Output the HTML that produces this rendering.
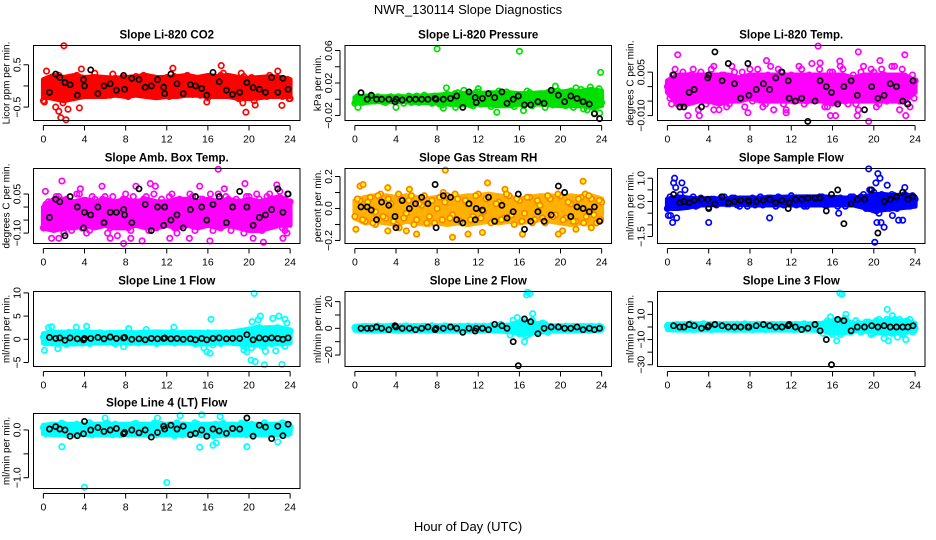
<!DOCTYPE html>
<html><head><meta charset="utf-8"><style>
html,body{margin:0;padding:0;background:#fff}
svg{display:block;font-family:"Liberation Sans",Arial,sans-serif}
</style></head><body>
<svg id="chart" width="936" height="540" viewBox="0 0 936 540" xmlns="http://www.w3.org/2000/svg">
<text x="468" y="14" font-size="13" text-anchor="middle">NWR_130114  Slope Diagnostics</text>
<text x="468" y="531" font-size="13" text-anchor="middle">Hour of Day (UTC)</text>
</svg>
<script>
const HOURS_A=[0,0.5,1,1.5,2,2.5,3,3.5,4,4.5,5,5.5,6,6.5,7,7.5,8,8.5,9,9.5,10,10.5,11,11.5,12,12.5,13,13.5,14,14.5,15,15.5,16,16.5,17,17.5,18,18.5,19,19.5,20,20.5,21,21.5,22,22.5,23,23.5,24];
const HOURS_B=[0.25,0.75,1.25,1.75,2.25,2.75,3.25,3.75,4.25,4.75,5.25,5.75,6.25,6.75,7.25,7.75,8.25,8.75,9.25,9.75,10.25,10.75,11.25,11.75,12.25,12.75,13.25,13.75,14.25,14.75,15.25,15.75,16.25,16.75,17.25,17.75,18.25,18.75,19.25,19.75,20.25,20.75,21.25,21.75,22.25,22.75,23.25,23.75,23.9];
const HOURS_BAND=[0,1,2,3,4,5,6,7,8,9,10,11,12,13,14,15,16,17,18,19,20,21,22,23,24];
const HOURS_BLACK=[0.6,1.2,1.6,2.1,2.6,3.3,3.9,4.0,4.6,5.3,5.9,6.5,7.1,7.8,7.9,8.6,9.3,9.9,10.5,11.1,11.7,11.8,12.4,13.0,13.6,14.3,14.8,15.4,15.9,16.5,17.1,17.8,18.4,19.1,19.8,20.4,21.0,21.6,22.2,22.8,23.3,23.8];
const X_TICKS=[0,4,8,12,16,20,24];

const co2A=[-0.35,0.1,-0.2,0.25,-0.1,0.15,-0.25,0.2,0,-0.15,0.3,-0.05,0.12,-0.22,0.18,-0.1,0.05,-0.2,0.22,0.0,-0.12,0.15,-0.25,0.08,0.2,-0.15,0.1,-0.05,0.25,-0.2,0.05,0.18,-0.28,0.12,-0.08,0.3,-0.18,0.1,-0.3,0.22,-0.1,-0.35,0.15,-0.05,0.25,-0.2,0.1,-0.15,-0.3];
const co2B=[0.05,-0.15,0.2,-0.28,0.15,-0.05,0.25,-0.18,0.12,0.2,-0.22,0.15,-0.1,0.28,-0.05,0.2,-0.25,0.1,-0.12,0.25,0.15,-0.2,0.1,-0.08,-0.25,0.22,-0.12,0.2,-0.1,0.15,-0.22,-0.1,0.2,-0.2,0.25,-0.1,0.15,-0.25,0.3,-0.1,0.2,-0.2,0.05,-0.25,-0.1,0.2,-0.25,0.15,0.1];
const co2Out=[[2.0,0.95],[1.2,-0.5],[1.5,-0.6],[1.7,-0.75],[2.2,-0.8],[2.4,-0.55],[1.9,-0.4],[3.5,-0.52],[0.3,0.35],[3.7,0.4],[12.6,0.42],[17.3,0.48],[19.7,-0.62],[19.4,-0.4],[20.6,-0.45],[23.2,-0.46],[23.9,-0.3],[15.9,-0.38],[22.8,0.35],[0.1,-0.38]];
const co2Black=[-0.15,0.28,0.2,0.08,0.03,-0.22,0.15,0.0,0.38,-0.18,0.0,0.05,-0.1,0.25,-0.08,0.18,0.15,-0.03,0.0,0.15,-0.03,-0.18,0.28,0.05,-0.18,0.03,0.0,-0.06,-0.22,0.32,0.1,-0.1,-0.2,-0.15,0.08,-0.04,-0.08,-0.15,0.2,-0.15,0.18,-0.08];
const co2Hi=[0.15,0.25,0.2,0.25,0.2,0.22,0.2,0.18,0.2,0.22,0.25,0.2,0.2,0.22,0.25,0.2,0.25,0.22,0.25,0.2,0.18,0.2,0.22,0.2,0.15];
const co2Lo=[-0.25,-0.3,-0.35,-0.3,-0.25,-0.25,-0.25,-0.22,-0.25,-0.22,-0.25,-0.28,-0.25,-0.25,-0.22,-0.22,-0.25,-0.25,-0.25,-0.3,-0.3,-0.28,-0.25,-0.25,-0.25];

const presA=[-0.005,0.002,-0.003,0.003,-0.002,0.001,-0.004,0.003,-0.003,0.002,0.001,-0.004,0.004,-0.002,0.003,-0.005,0.002,-0.007,0.006,-0.004,0.008,-0.006,0.005,-0.008,0.009,-0.003,0.006,-0.007,0.01,-0.004,0.007,-0.009,0.004,-0.006,0.008,-0.005,0.006,-0.01,0.009,-0.004,0.007,-0.008,0.01,-0.006,0.012,-0.005,0.011,-0.009,-0.004];
const presB=[0.003,-0.004,0.002,-0.002,0.003,-0.003,0.002,-0.001,0.003,-0.005,0.004,0.002,-0.004,0.005,-0.003,0.004,-0.006,0.005,-0.003,0.007,-0.005,0.004,-0.007,0.008,-0.006,0.005,-0.009,0.007,-0.005,0.009,-0.007,0.005,-0.006,0.01,-0.008,0.006,-0.005,0.008,-0.007,0.01,-0.006,0.009,-0.01,0.008,-0.012,0.006,-0.01,0.013,0.004];
const presOut=[[8.0,0.062],[16.0,0.059],[23.9,0.033],[8.9,0.014],[23.3,-0.017],[23.8,-0.017],[0.3,-0.01],[4.0,-0.01],[9.8,-0.01],[13.8,-0.016],[19.5,0.016],[10.6,0.011],[12.0,0.013],[22.9,0.015],[8.6,-0.011],[16.4,-0.014],[21.5,0.014],[22.6,-0.013]];
const presBlack=[0.008,0.0,0.005,0.0,0.0,0.0,-0.003,0.0,-0.001,0.0,0.0,0.0,0.0,0.001,0.0,0.0,0.001,0.004,-0.01,0.009,0.002,-0.004,0.001,0.007,0.002,0.009,-0.005,0.0,0.004,-0.007,-0.007,-0.003,-0.005,0.011,0.005,-0.003,0.004,0.001,-0.003,-0.006,-0.018,-0.024];
const presHi=[0.002,0.004,0.003,0.003,0.003,0.003,0.004,0.004,0.005,0.006,0.006,0.008,0.007,0.008,0.008,0.008,0.007,0.007,0.008,0.008,0.009,0.01,0.01,0.012,0.01];
const presLo=[-0.004,-0.004,-0.003,-0.003,-0.003,-0.003,-0.004,-0.004,-0.005,-0.006,-0.007,-0.007,-0.006,-0.007,-0.008,-0.008,-0.006,-0.006,-0.006,-0.007,-0.008,-0.008,-0.008,-0.01,-0.008];

const tempA=[0.0,0.004,-0.006,0.005,-0.003,0.006,-0.008,0.003,-0.005,0.007,-0.002,0.004,-0.006,0.005,0.0,-0.007,0.006,-0.004,0.003,-0.006,0.007,-0.003,0.005,-0.008,0.004,-0.002,0.006,-0.005,0.008,-0.004,0.003,-0.007,0.005,-0.002,0.006,-0.006,0.004,-0.008,0.007,-0.003,0.005,-0.006,0.004,-0.004,0.007,-0.005,0.003,-0.007,0.002];
const tempB=[-0.004,0.006,-0.002,-0.006,0.004,-0.004,0.005,-0.006,0.006,-0.003,0.004,-0.007,0.007,-0.004,0.005,0.003,-0.005,0.006,-0.007,0.004,-0.004,0.006,-0.006,0.003,-0.005,0.007,-0.006,0.004,-0.004,0.006,-0.007,0.005,-0.004,0.007,-0.005,0.003,-0.006,0.005,-0.004,0.006,-0.007,0.006,-0.005,0.007,-0.003,0.006,-0.006,0.004,-0.004];
const tempOut=[[0.4,-0.006],[1.0,0.011],[1.2,-0.007],[2.0,-0.01],[3.1,-0.01],[4.5,-0.008],[5.0,-0.008],[7.8,-0.009],[10.3,-0.008],[11.5,-0.009],[14.6,0.014],[14.8,0.0082],[15.8,-0.01],[16.3,-0.01],[18.5,0.012],[18.4,-0.01],[19.5,-0.012],[22.5,-0.008],[23.0,0.011],[23.1,-0.01],[9.6,0.009],[16.7,0.0088],[20.6,0.009]];
const tempBlack=[0.004,-0.007,-0.007,-0.002,-0.001,-0.007,0.003,0.004,0.012,0.002,0.008,0.001,-0.004,0.008,-0.003,-0.001,0.001,-0.001,0.003,0.005,0.002,-0.004,-0.005,-0.004,-0.012,-0.005,0.002,0.0,-0.002,-0.006,0.0,0.002,-0.003,-0.008,0.0,-0.004,-0.003,0.001,0.0,-0.005,-0.006,0.002];
const tempHi=[0.002,0.004,0.004,0.004,0.004,0.004,0.004,0.003,0.004,0.004,0.004,0.004,0.004,0.004,0.004,0.004,0.004,0.004,0.003,0.004,0.004,0.004,0.004,0.004,0.002];
const tempLo=[-0.002,-0.006,-0.006,-0.005,-0.005,-0.006,-0.005,-0.005,-0.004,-0.005,-0.005,-0.005,-0.005,-0.005,-0.005,-0.005,-0.006,-0.005,-0.005,-0.005,-0.005,-0.005,-0.005,-0.005,-0.002];

const ambA=[-0.08,0.02,-0.05,0.04,-0.1,0.0,-0.06,0.05,-0.03,-0.09,0.03,-0.06,0.04,-0.08,0.0,-0.04,0.05,-0.09,0.02,-0.06,0.04,-0.03,-0.08,0.03,-0.05,0.05,-0.1,0.01,-0.04,0.04,-0.07,0.03,-0.02,-0.09,0.05,-0.05,0.03,-0.07,0.02,-0.1,0.04,-0.06,0.03,-0.08,0.05,-0.04,0.06,-0.09,0.02];
const ambB=[0.01,-0.07,0.04,-0.06,0.03,-0.09,0.05,-0.08,0.02,0.04,-0.07,0.03,-0.1,0.04,-0.07,0.03,-0.08,0.04,-0.05,0.03,-0.09,0.05,0.01,-0.07,0.04,-0.08,0.03,-0.06,0.05,-0.09,0.03,-0.06,0.05,0.02,-0.08,0.04,-0.09,0.03,-0.06,0.04,-0.05,0.05,-0.09,0.04,-0.07,0.03,-0.08,0.05,-0.03];
const ambOut=[[0.2,0.06],[0.8,-0.12],[1.5,-0.12],[1.8,0.1],[3.6,0.07],[4.2,-0.1],[5.7,0.08],[6.5,-0.12],[7.2,-0.11],[7.8,-0.14],[8.5,-0.12],[9.0,0.08],[9.6,-0.13],[10.4,0.09],[10.9,0.08],[12.3,-0.12],[14.2,-0.12],[15.2,0.08],[17.0,0.145],[17.6,0.07],[16.2,-0.13],[20.4,-0.12],[21.4,-0.135],[22.7,0.085],[23.3,-0.12],[23.7,-0.1],[19.6,0.09]];
const ambBlack=[-0.04,0.03,0.02,-0.11,0.04,0.0,-0.08,-0.02,-0.03,0.0,-0.06,-0.02,-0.02,-0.01,-0.03,-0.06,0.07,0.01,-0.09,0.0,-0.07,0.0,-0.05,-0.03,-0.08,-0.01,0.04,0.0,-0.05,0.01,0.04,-0.06,0.0,0.06,0.0,-0.07,-0.04,-0.03,-0.01,0.07,-0.02,0.05];
const ambHi=[0.0,0.03,0.03,0.02,0.03,0.02,0.03,0.02,0.03,0.02,0.03,0.02,0.02,0.03,0.03,0.02,0.03,0.02,0.03,0.02,0.03,0.02,0.03,0.04,0.02];
const ambLo=[-0.08,-0.09,-0.08,-0.08,-0.07,-0.08,-0.07,-0.08,-0.08,-0.07,-0.08,-0.08,-0.07,-0.08,-0.07,-0.08,-0.07,-0.08,-0.07,-0.08,-0.09,-0.09,-0.08,-0.07,-0.07];

const rhA=[-0.05,0.05,-0.08,0.07,-0.02,0.09,-0.06,0.03,-0.1,0.06,-0.03,0.08,-0.07,0.02,-0.09,0.05,0.0,-0.07,0.08,-0.04,0.06,-0.09,0.03,-0.05,0.09,-0.02,0.07,-0.08,0.04,-0.06,0.08,-0.1,0.05,-0.03,0.07,-0.07,0.02,-0.09,0.06,-0.04,0.08,-0.06,0.03,-0.08,0.07,-0.05,0.06,-0.09,0.04];
const rhB=[0.06,-0.07,0.04,-0.09,0.08,-0.05,0.06,-0.08,0.09,-0.06,0.05,-0.1,0.03,0.08,-0.05,-0.09,0.07,0.04,-0.06,0.09,-0.08,0.05,-0.07,0.08,-0.06,0.06,-0.09,0.03,-0.07,0.09,-0.04,0.06,-0.08,0.07,-0.09,0.05,-0.06,0.08,-0.05,0.09,-0.07,0.04,-0.08,0.06,-0.09,0.08,-0.04,0.05,-0.07];
const rhOut=[[0.1,-0.13],[0.5,0.14],[0.8,0.15],[3.2,0.13],[3.2,-0.14],[4.3,-0.12],[5.0,-0.14],[5.3,0.12],[6.0,-0.16],[8.8,0.24],[8.6,0.1],[9.5,-0.18],[12.9,0.16],[11.0,-0.16],[12.4,-0.15],[14.6,0.12],[16.3,-0.16],[19.8,-0.16],[20.2,-0.14],[22.2,0.17],[22.4,0.09],[23.0,-0.12],[21.5,-0.13],[2.0,-0.1]];
const rhBlack=[0.01,0.01,-0.01,-0.07,0.04,0.02,-0.05,-0.12,0.05,0.0,0.03,0.07,0.03,0.15,-0.12,0.08,0.07,-0.07,-0.09,0.03,-0.07,0.0,-0.01,0.07,-0.08,0.02,-0.06,-0.02,0.09,-0.13,-0.08,-0.02,-0.08,-0.04,0.14,0.1,-0.05,0.01,0.0,-0.02,0.01,-0.08];
const rhHi=[0.05,0.07,0.08,0.08,0.07,0.08,0.07,0.06,0.07,0.08,0.07,0.08,0.08,0.09,0.08,0.07,0.06,0.07,0.08,0.08,0.07,0.08,0.07,0.08,0.06];
const rhLo=[-0.06,-0.09,-0.08,-0.09,-0.1,-0.08,-0.09,-0.1,-0.09,-0.1,-0.09,-0.1,-0.09,-0.08,-0.09,-0.08,-0.09,-0.08,-0.07,-0.08,-0.09,-0.1,-0.09,-0.1,-0.08];

const sfA=[-0.3,0.1,-0.2,0.15,-0.1,0.2,-0.15,0.05,-0.25,0.1,-0.05,0.2,-0.1,0.15,-0.2,0.05,0.1,-0.15,0.2,-0.05,0.15,-0.2,0.1,-0.1,0.25,-0.15,0.05,-0.2,0.15,-0.05,0.2,-0.15,0.1,-0.2,0.05,-0.1,0.2,-0.15,0.3,-0.3,0.4,-0.5,0.2,-0.3,0.25,-0.15,0.3,-0.2,0.1];
const sfB=[0.2,-0.2,0.3,-0.1,0.1,-0.2,0.15,-0.1,0.1,-0.15,0.2,-0.1,0.15,-0.15,0.1,-0.2,0.15,-0.05,-0.15,0.15,-0.1,0.2,-0.15,0.15,-0.1,0.1,-0.2,0.15,-0.1,0.2,-0.15,0.1,-0.05,0.15,-0.2,0.2,-0.1,0.2,-0.3,0.5,-0.4,0.3,-0.2,0.3,-0.3,0.2,-0.2,0.25,-0.1];
const sfOut=[[0.1,-0.6],[0.3,-0.6],[0.5,-0.9],[0.6,0.8],[0.7,1.0],[0.8,0.6],[0.9,-0.7],[1.4,0.8],[1.7,0.5],[4.0,-0.9],[9.9,-0.7],[19.5,1.4],[19.6,0.5],[19.8,-0.3],[20.2,0.8],[20.4,1.2],[20.6,1.0],[20.1,-1.75],[20.3,-0.9],[20.7,-0.9],[21.0,-1.1],[21.3,0.7],[21.8,-0.6],[22.4,-0.8],[22.8,-0.8],[23.0,0.6],[16.6,-0.5]];
const sfBlack=[0.3,-0.05,0.0,-0.05,0.05,0.1,0.1,-0.3,-0.1,0.2,-0.05,0.0,0.05,0.05,0.0,0.0,0.05,0.1,-0.05,0.05,-0.3,-0.05,0.1,0.1,0.15,0.15,0.15,-0.4,0.3,0.5,-0.95,-0.1,0.1,0.1,0.5,-1.35,0.0,0.1,0.2,0.4,0.1,0.2];
const sfHi=[0.1,0.2,0.15,0.12,0.12,0.12,0.12,0.15,0.15,0.15,0.18,0.18,0.2,0.2,0.2,0.2,0.18,0.15,0.15,0.2,0.3,0.3,0.25,0.3,0.2];
const sfLo=[-0.3,-0.3,-0.25,-0.15,-0.15,-0.12,-0.12,-0.12,-0.15,-0.15,-0.15,-0.15,-0.15,-0.15,-0.15,-0.15,-0.15,-0.15,-0.15,-0.25,-0.4,-0.35,-0.3,-0.25,-0.2];

const l1A=[0.5,-0.5,1.2,-0.8,0.8,1.5,-0.6,0.3,1.0,-0.9,0.6,1.4,-0.4,0.9,-1.0,0.5,1.2,-0.7,0.4,1.3,-0.5,0.8,-0.9,1.1,0.2,1.5,-0.6,0.9,-0.4,1.2,-0.8,0.6,1.4,-1.2,0.8,-0.5,1.1,-0.7,1.6,-1.5,2.0,-1.0,2.5,-1.2,2.2,-0.8,2.0,-1.5,1.8];
const l1B=[-0.8,1.0,-0.3,0.9,-1.1,0.4,1.1,-0.8,0.5,1.2,-0.6,0.3,1.1,-0.7,0.6,1.2,-0.5,0.9,-0.8,0.6,1.1,-0.6,1.3,-0.4,0.9,-0.8,1.2,-0.5,0.8,-1.0,1.3,-0.7,0.5,1.1,-0.9,1.4,-0.6,1.0,-1.0,1.5,-1.8,2.4,-1.5,1.8,-1.0,2.5,-0.9,1.6,0.5];
const l1Out=[[0.1,-2.4],[0.5,2.5],[0.8,2.7],[1.4,-2.0],[3.2,2.6],[4.2,2.8],[7.8,-1.6],[8.3,2.3],[10.0,2.1],[12.7,2.6],[15.6,-1.8],[15.9,-2.7],[16.3,4.3],[16.2,-3.0],[19.5,-2.3],[19.8,-2.7],[20.2,-4.5],[20.5,9.9],[20.3,3.8],[20.6,-4.8],[20.9,4.2],[21.1,5.0],[21.5,-5.5],[21.6,-2.6],[22.3,4.5],[22.6,-2.5],[22.9,5.0],[23.2,-5.4],[23.5,4.3],[23.7,3.5],[22.0,2.3]];
const l1Black=[0.4,0.2,0.3,-0.2,0.3,0.1,-0.1,0.2,0.2,0.4,0.1,0.5,0.2,0.3,0.4,0.0,0.1,-0.1,0.2,0.1,0.2,0.3,0.1,0.2,0.0,0.1,-0.1,0.2,-0.1,0.2,0.3,0.1,0.2,0.2,1.0,-0.1,0.3,0.1,0.3,0.2,0.0,0.3];
const l1Hi=[1.2,1.5,1.5,1.6,1.5,1.5,1.4,1.5,1.5,1.4,1.5,1.6,1.5,1.4,1.5,1.5,1.4,1.5,1.5,1.8,2.2,2.5,2.5,2.5,2.0];
const l1Lo=[-0.8,-1.0,-1.0,-1.0,-0.9,-0.8,-0.8,-0.8,-0.8,-0.8,-0.8,-0.8,-0.7,-0.8,-0.8,-1.0,-1.0,-0.8,-0.8,-1.0,-1.2,-1.2,-1.0,-1.0,-0.8];

const l2A=[0.5,-1,1.5,-0.5,1,-1.5,0.8,1.6,-1,0.5,1.8,-0.8,1.2,-1.2,0.6,1.9,-1,0.4,1.5,-1.4,0.9,-0.6,1.7,-1.1,0.5,1.6,-1.3,0.8,-0.4,1.5,-1.2,3,-3,5,-4,2,-2,3,1.5,-1,0.8,1.6,-1.2,0.5,1.2,-0.8,1.5,-1,0.3];
const l2B=[-0.5,1.2,-1,0.8,1.8,-0.8,-0.3,1,-1.5,1.5,0,1.4,-1.2,1.6,-0.6,1.2,-1.5,1.8,-0.8,0.7,1.5,-1,0.8,1.6,-1.4,0.6,1.9,-0.8,1.4,-1.5,2,-2.5,4,-5,6,-3,4,-3,-1,1.4,-1.2,0.4,1.5,-0.9,1.3,-1.4,0.6,1.6,-0.5];
const l2Out=[[15.8,8],[15.4,6],[15.1,-5],[16.0,-4],[16.7,25],[16.8,27],[17.0,26],[17.3,11],[16.5,-10],[16.6,-6],[17.8,-4],[18.0,3],[14.2,3]];
const l2Black=[0,0,0,1,0,-1,2,1,0,0,-1,0,1,-1,0,0,1,0,-3,0,-2,0,0,-1,3,2,0,-10,-28,7,5,-4,0,1,1,0,0,1,-1,0,-1,0];
const l2Hi=[1.5,2,2,2,2,2,2,2,2,2,2,2,2,2,2,2.5,4,5,3,2,2,2,2,2,1.5];
const l2Lo=[-1.5,-2,-2,-2,-2,-2,-2,-2,-2,-2,-2,-2,-2,-2,-2,-2.5,-4,-4,-3,-2,-2,-2,-2,-2,-1.5];

const l3A=[0.5,-1.5,2,-1,1.5,-2,1,2.5,-1.5,0.5,2,-1,1.5,-2,1,2.5,-1,0.5,2,-2,1,-1,2,-1.5,0.5,2,-2,1,-1,2,-1.5,3,-4,5,-3,2,-2,3,-3,4,-5,6,-4,5,-3,6,-4,3,-1];
const l3B=[-1,1.5,-0.5,1,2.5,-1,0,1.5,-2,2,0,1.8,-1.5,2.2,-0.8,1.5,-2,2.2,-1,1,2,-1.5,1.2,2,-2,0.8,2.5,-1,1.8,-2,2.5,-3,5,-6,7,-4,5,-4,4,-6,5,-4,6,-5,4,-6,5,-4,1];
const l3Out=[[15.8,8],[15.5,5],[15.1,-5],[16.0,-6],[16.7,27],[16.9,26],[17.3,10],[16.4,-11],[17.8,-3],[21.3,14],[21.8,9],[21.0,-9],[21.4,-11],[22.0,6],[22.3,-8],[22.8,-5],[23.1,-10],[23.5,6],[20.5,-3],[19.7,-5]];
const l3Black=[1,0,0,2,1,-1,0,1,2,1,0,0,0,0,0,1,2,1,0,0,1,2,0,-2,-1,2,-3,-10,-30,6,5,-3,0,0,1,0,1,0,0,0,0,1];
const l3Hi=[2,2.5,2.5,2.5,2.5,2.5,2.5,2.5,2.5,2.5,2.5,2.5,2.5,2.5,2.5,3,5,6,3,3,4,5,5,5,3];
const l3Lo=[-2,-2.5,-2.5,-2.5,-2.5,-2.5,-2.5,-2.5,-2.5,-2.5,-2.5,-2.5,-2.5,-2.5,-2.5,-3,-5,-5,-3,-3,-4,-5,-5,-4,-3];

const l4A=[0.05,-0.05,0.1,-0.08,0.12,0.0,-0.1,0.08,-0.05,0.15,-0.02,0.1,-0.08,0.05,0.12,-0.1,0.06,-0.04,0.14,-0.08,0.1,0.0,-0.1,0.12,-0.05,0.08,0.15,-0.1,0.05,-0.06,0.12,-0.02,0.1,-0.12,0.06,0.14,-0.05,0.1,-0.08,0.12,0.02,-0.1,0.08,0.15,-0.06,0.1,-0.04,0.12,0.05];
const l4B=[-0.08,0.1,-0.04,0.14,-0.1,0.06,0.12,-0.06,0.1,-0.1,0.08,-0.06,0.14,-0.1,0.0,0.1,-0.08,0.12,-0.05,0.06,-0.1,0.14,0.05,-0.06,0.1,-0.12,0.02,0.1,-0.08,0.15,-0.1,0.08,-0.06,0.12,-0.04,-0.1,0.1,-0.06,0.14,-0.1,0.12,0.05,-0.06,0.1,-0.1,0.06,0.15,-0.08,0.1];
const l4Out=[[4.0,-1.2],[12.0,-1.1],[1.8,-0.35],[15.2,-0.36],[19.8,-0.35],[13.3,0.3],[15.4,0.32],[17.2,0.28],[6.0,0.25],[16.5,-0.32],[16.8,-0.27],[22.8,-0.25],[11.1,0.25]];
const l4Black=[0.02,0.07,0.02,0.0,-0.13,-0.12,-0.08,0.18,0.0,0.05,-0.03,0.0,0.03,-0.08,-0.05,0.0,-0.06,0.0,-0.15,-0.05,0.08,0.02,0.1,0.02,0.08,-0.1,-0.07,0.0,-0.13,0.02,-0.02,-0.07,0.03,0.02,0.25,-0.13,0.1,0.06,-0.18,0.08,-0.12,0.12];
const l4Hi=[0.1,0.12,0.12,0.12,0.12,0.12,0.13,0.12,0.12,0.12,0.12,0.12,0.12,0.13,0.12,0.12,0.12,0.13,0.12,0.12,0.12,0.12,0.12,0.12,0.1];
const l4Lo=[-0.08,-0.1,-0.1,-0.1,-0.1,-0.1,-0.1,-0.1,-0.1,-0.1,-0.1,-0.1,-0.1,-0.1,-0.1,-0.1,-0.12,-0.12,-0.1,-0.1,-0.1,-0.1,-0.1,-0.1,-0.08];

const panels=[
 {name:'co2',title:'Slope Li-820 CO2',ylab:'Licor ppm per min.',col:0,row:0,ymin:-0.817,ymax:0.956,ticks:[-0.5,0,0.5],labels:[-0.5,0.5],fmt:1,a:co2A,b:co2B,o:co2Out,k:co2Black,hi:co2Hi,lo:co2Lo,stroke:'#ff0000',fill:'none',band:'#ff0000'},
 {name:'pressure',title:'Slope Li-820 Pressure',ylab:'kPa per min.',col:1,row:0,ymin:-0.0262,ymax:0.0662,ticks:[-0.02,0,0.02,0.04,0.06],labels:[-0.02,0.02,0.06],fmt:2,a:presA,b:presB,o:presOut,k:presBlack,hi:presHi,lo:presLo,stroke:'#00e000',fill:'none',band:'#00e000'},
 {name:'li820-temp',title:'Slope Li-820 Temp.',ylab:'degrees C per min.',col:2,row:0,ymin:-0.0117,ymax:0.0142,ticks:[-0.01,-0.005,0,0.005],labels:[-0.01,0.005],fmt:3,a:tempA,b:tempB,o:tempOut,k:tempBlack,hi:tempHi,lo:tempLo,stroke:'#ff00ff',fill:'none',band:'#ff00ff'},
 {name:'amb-box-temp',title:'Slope Amb. Box Temp.',ylab:'degrees C per min.',col:0,row:1,ymin:-0.14,ymax:0.148,ticks:[-0.1,-0.05,0,0.05],labels:[-0.1,0.05],fmt:2,a:ambA,b:ambB,o:ambOut,k:ambBlack,hi:ambHi,lo:ambLo,stroke:'#ff00ff',fill:'none',band:'#ff00ff'},
 {name:'gas-stream-rh',title:'Slope Gas Stream RH',ylab:'percent per min.',col:1,row:1,ymin:-0.219,ymax:0.25,ticks:[-0.2,-0.1,0,0.1,0.2],labels:[-0.2,0,0.2],fmt:1,a:rhA,b:rhB,o:rhOut,k:rhBlack,hi:rhHi,lo:rhLo,stroke:'#ff8000',fill:'#ffff00',band:'#ffb000'},
 {name:'sample-flow',title:'Slope Sample Flow',ylab:'ml/min per min.',col:2,row:1,ymin:-1.8,ymax:1.417,ticks:[-1.5,-1,-0.5,0,0.5,1],labels:[-1.5,0,1],fmt:1,a:sfA,b:sfB,o:sfOut,k:sfBlack,hi:sfHi,lo:sfLo,stroke:'#0000ff',fill:'none',band:'#0000ff'},
 {name:'line1-flow',title:'Slope Line 1 Flow',ylab:'ml/min per min.',col:0,row:2,ymin:-5.86,ymax:10.3,ticks:[-5,0,5,10],labels:[-5,0,5,10],fmt:0,a:l1A,b:l1B,o:l1Out,k:l1Black,hi:l1Hi,lo:l1Lo,stroke:'#00ffff',fill:'none',band:'#00ffff'},
 {name:'line2-flow',title:'Slope Line 2 Flow',ylab:'ml/min per min.',col:1,row:2,ymin:-28.6,ymax:27.6,ticks:[-20,-10,0,10,20],labels:[-20,0,20],fmt:0,a:l2A,b:l2B,o:l2Out,k:l2Black,hi:l2Hi,lo:l2Lo,stroke:'#00ffff',fill:'none',band:'#00ffff'},
 {name:'line3-flow',title:'Slope Line 3 Flow',ylab:'ml/min per min.',col:2,row:2,ymin:-31.4,ymax:28.2,ticks:[-30,-20,-10,0,10,20],labels:[-30,-10,10],fmt:0,a:l3A,b:l3B,o:l3Out,k:l3Black,hi:l3Hi,lo:l3Lo,stroke:'#00ffff',fill:'none',band:'#00ffff'},
 {name:'line4-flow',title:'Slope Line 4 (LT) Flow',ylab:'ml/min per min.',col:0,row:3,ymin:-1.226,ymax:0.345,ticks:[-1,-0.5,0],labels:[-1,0],fmt:1,a:l4A,b:l4B,o:l4Out,k:l4Black,hi:l4Hi,lo:l4Lo,stroke:'#00ffff',fill:'none',band:'#00ffff'}
];
const COL_LEFT=[33.5,345,657.5], COL_W=[266.5,266.5,267.5];
const ROW_TOP=[45.5,168.5,291.5,413.5], ROW_H=75;
const NS='http://www.w3.org/2000/svg';
const svg=document.getElementById('chart');
function mk(tag,attrs,parent){const e=document.createElementNS(NS,tag);for(const k in attrs)e.setAttribute(k,attrs[k]);(parent||svg).appendChild(e);return e;}

panels.forEach(p=>{
  const L=COL_LEFT[p.col],W=COL_W[p.col],T=ROW_TOP[p.row],H=ROW_H,B=T+H;
  const xs=h=>L+(h+0.96)/25.92*W;
  const ys=v=>T+(p.ymax-v)/(p.ymax-p.ymin)*H;
  const g=mk('g',{});
  
  
  const t=mk('text',{x:L+W/2,y:T-7,'font-size':11.5,'font-weight':'bold','text-anchor':'middle'},g);
  t.textContent=p.title;
  
  
  const yl=mk('text',{x:0,y:0,'font-size':10,'text-anchor':'middle',transform:`translate(${L-24},${T+H/2}) rotate(-90)`},g);
  yl.textContent=p.ylab;
  
  
  // dense band envelope
  const up=HOURS_BAND.map((h,i)=>xs(h).toFixed(1)+','+ys(p.hi[i]).toFixed(1));
  const dn=HOURS_BAND.map((h,i)=>xs(h).toFixed(1)+','+ys(p.lo[i]).toFixed(1)).reverse();
  const band=mk('polygon',{points:up.concat(dn).join(' '),fill:p.band,stroke:p.band,'stroke-width':5,'stroke-linejoin':'round'},g);
  
  
  // points
  const pts=mk('g',{},g);
  
  
  const dot=(h,v,stroke,fill)=>{const c=mk('circle',{cx:xs(h).toFixed(1),cy:ys(v).toFixed(1),r:2.7,fill:fill,stroke:stroke,'stroke-width':1.7},pts);
    
    };
  p.o.forEach(d=>dot(d[0],d[1],p.stroke,p.fill));
  p.a.forEach((v,i)=>dot(HOURS_A[i],v,p.stroke,p.fill));
  p.b.forEach((v,i)=>dot(HOURS_B[i],v,p.stroke,p.fill));
  const kg=mk('g',{},g);
  
  
  p.k.forEach((v,i)=>{const c=mk('circle',{cx:xs(HOURS_BLACK[i]).toFixed(1),cy:ys(v).toFixed(1),r:2.6,fill:'none',stroke:'#000','stroke-width':1.7},kg);
    
    });
  const box=mk('rect',{x:L,y:T,width:W,height:H,fill:'none',stroke:'#000','stroke-width':1},g);
  
  
  const xa=mk('g',{},g);
  
  
  mk('line',{x1:xs(X_TICKS[0]),x2:xs(X_TICKS[X_TICKS.length-1]),y1:B+5,y2:B+5,stroke:'#000'},xa);
  X_TICKS.forEach(h=>{mk('line',{x1:xs(h),x2:xs(h),y1:B+5,y2:B+10,stroke:'#000'},xa);
    const tx=mk('text',{x:xs(h),y:B+22,'font-size':10.5,'text-anchor':'middle'},xa);tx.textContent=h;});
  const ya=mk('g',{},g);
  
  
  mk('line',{x1:L-5,x2:L-5,y1:ys(p.ticks[0]),y2:ys(p.ticks[p.ticks.length-1]),stroke:'#000'},ya);
  p.ticks.forEach(v=>mk('line',{x1:L-10,x2:L-5,y1:ys(v),y2:ys(v),stroke:'#000'},ya));
  p.labels.forEach(v=>{const tx=mk('text',{x:0,y:0,'font-size':10.5,'text-anchor':'middle',transform:`translate(${L-13},${ys(v)}) rotate(-90)`},ya);
    tx.textContent=(v<0?'\u2212':'')+Math.abs(v).toFixed(p.fmt);});
});
</script>
</body></html>
